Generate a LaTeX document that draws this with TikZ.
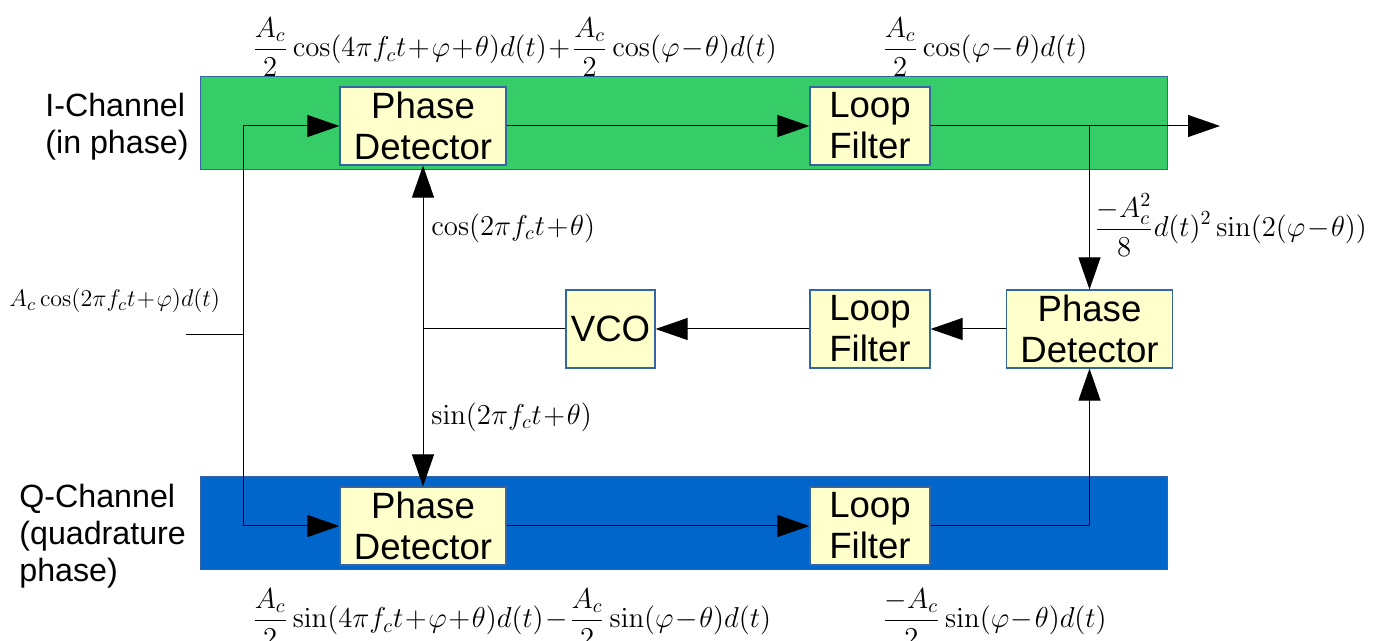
\documentclass[tikz,border=0pt]{standalone}
\usepackage[no-math]{fontspec}
\setmainfont{Liberation Sans}
\usetikzlibrary{arrows.meta}
\definecolor{bandgreen}{RGB}{54,204,104}
\definecolor{bandblue}{RGB}{0,102,204}
\definecolor{boxyellow}{RGB}{255,255,204}
\definecolor{edgeblue}{RGB}{52,101,164}
\newcommand{\blockfont}{\fontsize{18.3}{20.5}\selectfont}
\newcommand{\sidefont}{\fontsize{16.1}{18.5}\selectfont}
\newcommand{\mathfont}{\fontsize{13.6}{15.5}\selectfont\medmuskip=1mu plus 1mu}
\newcommand{\smallmathfont}{\fontsize{12.3}{14}\selectfont\medmuskip=1mu plus 1mu}
\begin{document}
\begin{tikzpicture}[x=0.5pt,y=-0.5pt,
  block/.style={draw=edgeblue, fill=boxyellow, line width=0.6pt, inner sep=0pt, align=center, font=\blockfont},
  pdbox/.style={block, minimum width=83pt, minimum height=39pt},
  lfbox/.style={block, minimum width=60pt, minimum height=39pt},
  vcobox/.style={block, minimum width=44.5pt, minimum height=39pt},
  band/.style={draw=edgeblue, line width=0.5pt},
  wire/.style={line width=0.5pt},
  arr/.style={wire, -{Triangle[length=16pt,width=11pt]}},
  darr/.style={wire, {Triangle[length=16pt,width=11pt]}-{Triangle[length=16pt,width=11pt]}},
  lbl/.style={anchor=west, inner sep=0pt, font=\mathfont},
  side/.style={anchor=west, inner sep=0pt, align=left, font=\sidefont}
  ]
\useasboundingbox (0,0) rectangle (1377,641);
\fill[white] (0,0) rectangle (1377,641);
% bands
\draw[band, fill=bandgreen] (200,77) rectangle (1167,170);
\draw[band, fill=bandblue] (200,477) rectangle (1167,570);
% blocks
\node[pdbox] (pdi) at (423,126) {Phase\\Detector};
\node[lfbox] (lfi) at (870,126) {Loop\\Filter};
\node[pdbox] (pdq) at (423,526) {Phase\\Detector};
\node[lfbox] (lfq) at (870,526) {Loop\\Filter};
\node[pdbox] (pdm) at (1089.5,329) {Phase\\Detector};
\node[lfbox] (lfm) at (870,329) {Loop\\Filter};
\node[vcobox] (vco) at (610.5,329) {VCO};
% side labels
\node[side] (ich) at (45,127) {I-Channel\\(in phase)};
\node[side] (qch) at (19,536) {Q-Channel\\(quadrature\\phase)};
% coordinates
\coordinate (in) at (186,335);
\coordinate (split) at (243,335);
\coordinate (out) at (1220,126);
% connectors
\draw[wire] (in) -- (split);
\draw[arr] (split) |- (pdi.west);
\draw[arr] (split) |- (pdq.west);
\draw[arr] (pdi.east) -- (lfi.west);
\draw[arr] (pdq.east) -- (lfq.west);
\draw[arr] (lfi.east) -- (out);
\draw[arr] (pdm.north |- lfi.east) -- (pdm.north);
\draw[arr] (lfq.east) -| (pdm.south);
\draw[arr] (pdm.west) -- (lfm.east);
\draw[arr] (lfm.west) -- (vco.east);
\draw[wire] (vco.west) -- (vco.west -| pdi.south);
\draw[darr] (pdi.south) -- (pdq.north);
% formulas
\node[lbl] (ftl) at (252,47) {$\displaystyle\frac{A_c}{2}\cos(4\pi f_c t+\varphi+\theta)d(t)+\frac{A_c}{2}\cos(\varphi-\theta)d(t)$};
\node[lbl] (ftr) at (882,47) {$\displaystyle\frac{A_c}{2}\cos(\varphi-\theta)d(t)$};
\node[lbl] (fmid) at (1094,225) {$\displaystyle\frac{-A_c^2}{8}d(t)^2\sin(2(\varphi-\theta))$};
\node[lbl, font=\smallmathfont] (fin) at (9,301) {$A_c\cos(2\pi f_c t+\varphi)d(t)$};
\node[lbl] (fcos) at (431,228) {$\cos(2\pi f_c t+\theta)$};
\node[lbl] (fsin) at (431,417) {$\sin(2\pi f_c t+\theta)$};
\node[lbl] (fbl) at (252,618) {$\displaystyle\frac{A_c}{2}\sin(4\pi f_c t+\varphi+\theta)d(t)-\frac{A_c}{2}\sin(\varphi-\theta)d(t)$};
\node[lbl] (fbr) at (882,618) {$\displaystyle\frac{-A_c}{2}\sin(\varphi-\theta)d(t)$};
\end{tikzpicture}
\end{document}
